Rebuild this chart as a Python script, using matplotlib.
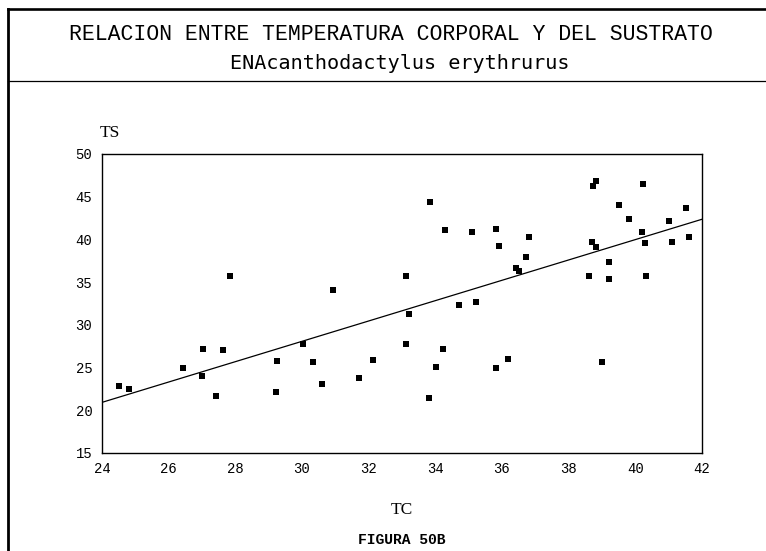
import numpy as np
import matplotlib
matplotlib.use("Agg")
import matplotlib.pyplot as plt
from matplotlib.lines import Line2D

# Body temperature (TC) and substrate temperature (TS) observations
tc = [24.50, 24.81, 26.42, 27.03, 27.01, 27.43, 27.64, 27.84, 29.24, 29.22,
      30.02, 30.33, 30.61, 30.92, 31.70, 32.14, 33.13, 33.21, 33.12, 33.84,
      33.80, 34.01, 34.22, 34.30, 34.71, 35.11, 35.21, 35.81, 35.91, 35.81,
      36.19, 36.41, 36.51, 36.71, 36.81, 38.61, 38.70, 38.81, 38.72, 38.83,
      39.00, 39.20, 39.21, 39.50, 39.80, 40.22, 40.20, 40.30, 40.32, 41.00,
      41.10, 41.51, 41.61]
ts = [22.8, 22.5, 24.9, 27.1, 24.0, 21.7, 27.0, 35.7, 25.7, 22.1,
      27.7, 25.6, 23.0, 34.1, 23.8, 25.9, 35.7, 31.3, 27.7, 44.4,
      21.4, 25.0, 27.2, 41.1, 32.3, 40.9, 32.6, 41.2, 39.2, 24.9,
      26.0, 36.7, 36.3, 37.9, 40.3, 35.7, 39.7, 39.1, 46.2, 46.8,
      25.6, 37.3, 35.3, 44.0, 42.4, 46.5, 40.9, 39.6, 35.7, 42.1,
      39.7, 43.7, 40.3]

# Fitted regression line TS = a + b * TC
fit_intercept = -7.71
fit_slope = 1.192

x_ticks = [24, 26, 28, 30, 32, 34, 36, 38, 40, 42]
y_ticks = [15, 20, 25, 30, 35, 40, 45, 50]

W, H = 766, 551
fig = plt.figure(figsize=(W / 100, H / 100), dpi=100)
fig.patch.set_facecolor("white")

mono = "Liberation Mono"
serif = "Liberation Serif"

# Page frame: heavy top and left rules, thin rule under the heading
fig.add_artist(Line2D([8 / W, 1.0], [1 - 9 / H, 1 - 9 / H], color="black", lw=1.9,
                      transform=fig.transFigure))
fig.add_artist(Line2D([8 / W, 8 / W], [0.0, 1 - 9 / H], color="black", lw=2.0,
                      transform=fig.transFigure))
fig.add_artist(Line2D([8 / W, 1.0], [1 - 81 / H, 1 - 81 / H], color="black", lw=0.9,
                      transform=fig.transFigure))

fig.text(391 / W, 1 - 35 / H, "RELACION ENTRE TEMPERATURA CORPORAL Y DEL SUSTRATO",
         family=mono, fontsize=15.5, ha="center", va="center")
fig.text(400 / W, 1 - 64 / H, "ENAcanthodactylus erythrurus",
         family="DejaVu Sans Mono", fontsize=14.5, ha="center", va="center")

ax = fig.add_axes([102 / W, 1 - 452.7 / H, 600 / W, (452.7 - 154) / H])
ax.set_xlim(24, 42)
ax.set_ylim(15, 50)
ax.set_xticks(x_ticks)
ax.set_yticks(y_ticks)
ax.set_xticklabels([str(v) for v in x_ticks], family=mono, fontsize=10)
ax.set_yticklabels([str(v) for v in y_ticks], family=mono, fontsize=10)
ax.tick_params(length=0, pad=7)
for s in ax.spines.values():
    s.set_linewidth(1.0)

ax.scatter(tc, ts, marker="s", s=14, color="black", linewidths=0, zorder=3)

xl = np.array([24.0, 42.0])
ax.plot(xl, fit_intercept + fit_slope * xl, color="black", lw=0.9)

fig.text(110 / W, 1 - 133 / H, "TS", family=serif, fontsize=12.5, ha="center", va="center")
fig.text(402 / W, 1 - 510 / H, "TC", family=serif, fontsize=12.5, ha="center", va="center")
fig.text(402 / W, 1 - 540 / H, "FIGURA 50B", family=mono, fontsize=10.5,
         fontweight="bold", ha="center", va="center")

fig.savefig("out.png", dpi=100)
